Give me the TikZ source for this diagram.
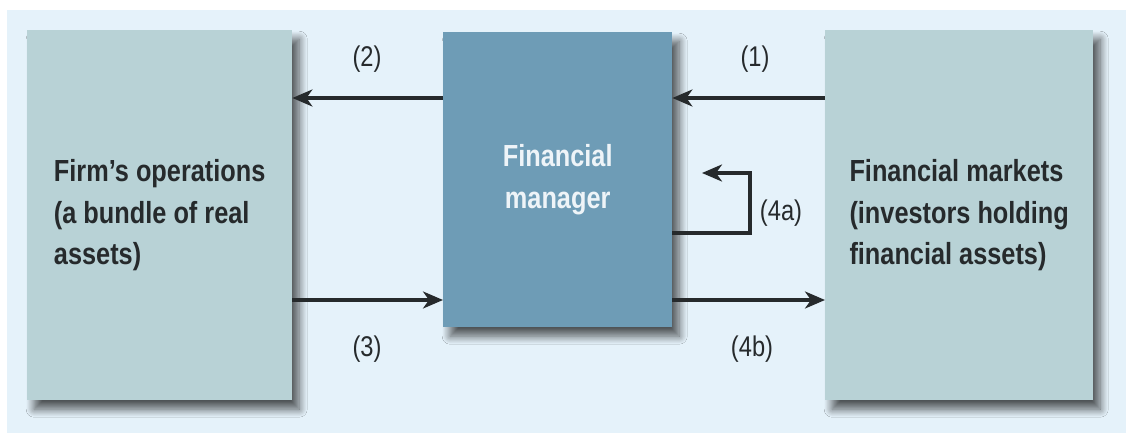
\documentclass[tikz,border=0pt]{standalone}
\usepackage{fontspec}
\newfontfamily\condfont{Liberation Sans}[FakeStretch=0.83]
\usetikzlibrary{arrows.meta,shadows.blur}
\definecolor{panelcol}{HTML}{E5F2FA}
\definecolor{sidecol}{HTML}{B8D2D6}
\definecolor{midcol}{HTML}{6E9CB6}
\definecolor{inkcol}{HTML}{262A2C}
\definecolor{paper}{HTML}{EEF4F8}
\tikzset{
  box/.style={rectangle, anchor=north west, inner sep=0pt,
    font=\condfont\bfseries\fontsize{30.5}{41.5}\selectfont,
    blur shadow={shadow xshift=7pt, shadow yshift=-9pt,
      shadow blur radius=8pt, shadow blur steps=12, shadow opacity=65}},
  sidebox/.style={box, fill=sidecol, text=inkcol, align=left, minimum height=370pt},
  midbox/.style={box, fill=midcol, text=paper, align=center,
    minimum width=229pt, minimum height=295pt},
  flow/.style={line width=3.3pt, draw=inkcol, -{Stealth[length=20pt, width=17pt, inset=6pt]}},
  lbl/.style={text=inkcol, font=\condfont\fontsize{28.5}{30}\selectfont}
}

\begin{document}
\begin{tikzpicture}[x=1pt, y=-1pt]
        % panel
        \useasboundingbox (0,0) rectangle (1126,438);
        \fill[white] (0,0) rectangle (1126,438);
        \fill[panelcol] (7,10) rectangle (1126,433);
        % boxes
        \node[sidebox, minimum width=265pt] (ops) at (27,30)
            {Firm’s operations\\(a bundle of real\\assets)};
        \node[midbox] (mgr) at (443,32) {Financial\\manager};
        \node[sidebox, minimum width=268pt] (mkt) at (825,30)
            {Financial markets\\(investors holding\\financial assets)};
        % rows of the arrows
        \coordinate (upper) at (0,98);
        \coordinate (lower) at (0,300);
        \coordinate (turn) at (750,233);
        \coordinate (back) at (702,173);
        % arrows
        \draw[flow] (mkt.west |- upper) -- (mgr.east |- upper);
        \draw[flow] (mgr.west |- upper) -- (ops.east |- upper);
        \draw[flow] (ops.east |- lower) -- (mgr.west |- lower);
        \draw[flow] (mgr.east |- lower) -- (mkt.west |- lower);
        \draw[flow] (mgr.east |- turn) -- (turn) |- (back);
        % labels
        \node[lbl] (l1) at (755,59) {(1)};
        \node[lbl] (l2) at (367,59) {(2)};
        \node[lbl] (l3) at (367,349) {(3)};
        \node[lbl] (l4a) at (781,213) {(4a)};
        \node[lbl] (l4b) at (752,349) {(4b)};
    \end{tikzpicture}
\end{document}
